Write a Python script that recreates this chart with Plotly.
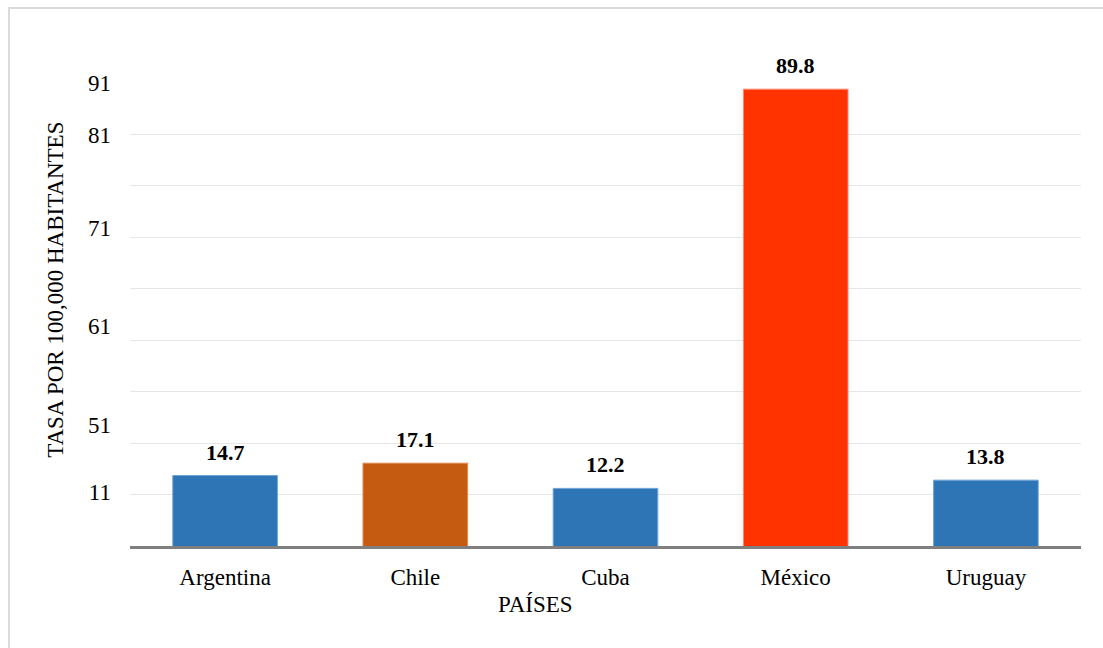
import plotly.graph_objects as go

# Data
paises = ["Argentina", "Chile", "Cuba", "México", "Uruguay"]
tasas = [14.7, 17.1, 12.2, 89.8, 13.8]
colores = ["#2E75B6", "#C55A11", "#2E75B6", "#FF3300", "#2E75B6"]
bordes = ["#6FA3D6", "#E08A50", "#6FA3D6", "#FF8A70", "#6FA3D6"]

# Grid lines every 10 starting at 11
grid_vals = [11, 21, 31, 41, 51, 61, 71, 81, 91]
# Y tick labels as printed on the axis, with their positions along it
tick_text = ["11", "51", "61", "71", "81", "91"]
tick_pos = [11.5, 24.5, 43.8, 62.8, 81.0, 91.0]

FONT = "'Liberation Serif', 'DejaVu Serif', 'Times New Roman', serif"
FS = 23
Y_MIN, Y_MAX = 1, 91

fig = go.Figure()
fig.add_trace(go.Bar(
    x=paises, y=tasas,
    marker=dict(color=colores, line=dict(color=bordes, width=1)),
    width=0.55, showlegend=False, hoverinfo="x+y",
))

# Value labels above each bar
for p, v in zip(paises, tasas):
    fig.add_annotation(
        x=p, y=v, text=f"<b>{v:.1f}</b>", showarrow=False,
        xanchor="center", yanchor="bottom", yshift=9,
        font=dict(family=FONT, size=22, color="#000000"),
    )

# Axis titles
fig.add_annotation(
    xref="paper", yref="paper", x=-0.078, y=0.553,
    xanchor="center", yanchor="middle",
    text="TASA POR 100,000 HABITANTES", textangle=-90, showarrow=False,
    font=dict(family=FONT, size=FS, color="#000000"),
)
fig.add_annotation(
    xref="paper", yref="paper", x=0.426, y=-0.127,
    xanchor="center", yanchor="middle",
    text="PAÍSES", showarrow=False,
    font=dict(family=FONT, size=FS, color="#000000"),
)

# Light frame around the chart
fig.add_shape(
    type="rect", xref="paper", yref="paper",
    x0=-0.1272, x1=1.1, y0=-0.26, y1=1.162,
    line=dict(color="#DADADA", width=2), layer="below",
)

fig.update_layout(
    width=1103, height=648,
    margin=dict(l=130, r=22, t=83, b=102),
    paper_bgcolor="#FFFFFF", plot_bgcolor="#FFFFFF",
    font=dict(family=FONT, size=FS, color="#000000"),
    bargap=0.45,
    xaxis=dict(
        showline=True, linecolor="#7F7F7F", linewidth=3,
        ticks="", ticklabelstandoff=8,
        tickfont=dict(family=FONT, size=FS, color="#000000"),
        showgrid=False, zeroline=False,
    ),
    yaxis=dict(
        range=[Y_MIN, Y_MAX], tickvals=grid_vals, showticklabels=False,
        showgrid=True, gridcolor="#E6E6E6", gridwidth=1,
        zeroline=False, showline=False, ticks="",
    ),
    yaxis2=dict(
        range=[Y_MIN, Y_MAX], overlaying="y", side="left",
        tickvals=tick_pos, ticktext=tick_text,
        tickfont=dict(family=FONT, size=FS, color="#000000"),
        showgrid=False, zeroline=False, showline=False, ticks="",
        ticklabelstandoff=18,
    ),
)

# Invisible trace to anchor the secondary y axis that carries the labels
fig.add_trace(go.Scatter(
    x=[paises[0]], y=[Y_MIN], yaxis="y2", mode="markers",
    marker=dict(opacity=0), showlegend=False, hoverinfo="skip",
))

fig.write_html("out.html")
